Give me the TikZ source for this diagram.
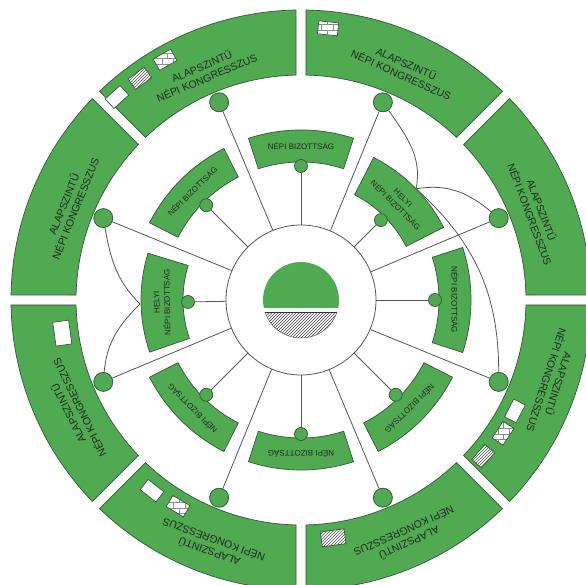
\documentclass[tikz,border=0pt]{standalone}
\usepackage{fontspec}
\setmainfont{Liberation Sans}
\usetikzlibrary{patterns}
\definecolor{segfill}{RGB}{80,170,82}
\definecolor{segedge}{RGB}{55,85,58}
\definecolor{wire}{RGB}{85,85,85}
\definecolor{ink}{RGB}{30,40,30}
\begin{document}
\begin{tikzpicture}[x=1pt,y=1pt,
  seg/.style={fill=segfill,draw=segedge,line width=0.7pt},
  wireline/.style={draw=wire,line width=0.8pt},
  bigdot/.style={circle,fill=segfill,draw=segedge,line width=0.8pt,minimum size=19pt,inner sep=0pt},
  smalldot/.style={circle,fill=segfill,draw=segedge,line width=0.7pt,minimum size=13pt,inner sep=0pt},
  outertext/.style={text=ink,font=\fontsize{10.5}{12.5}\selectfont,align=center,inner sep=0pt},
  innertext/.style={text=ink,font=\fontsize{8}{10.5}\selectfont,align=center,inner sep=0pt},
  whitebox/.style={draw=segedge,fill=white,minimum width=20pt,minimum height=13pt,inner sep=0pt,line width=0.7pt},
  hatchbox/.style={draw=segedge,minimum width=20pt,minimum height=13pt,inner sep=0pt,line width=0.7pt,preaction={fill=white},pattern=north east lines,pattern color=black!70},
  brickbox/.style={draw=segedge,minimum width=20pt,minimum height=13pt,inner sep=0pt,line width=0.7pt,preaction={fill=white},pattern=bricks,pattern color=black!45},
]
\fill[white] (-301,-285) rectangle (285,300);
\useasboundingbox (-301,-285) rectangle (285,300);

% outer ring segments
\foreach \k in {0,...,7}{
  \pgfmathsetmacro\a{45*\k}
  \pgfmathsetmacro\b{45*\k+45}
  \path[seg] ({\a+1.273}:225) -- ({\a+0.988}:290)
    arc[start angle={\a+0.988}, end angle={\b-0.988}, radius=290]
    -- ({\b-1.273}:225)
    arc[start angle={\b-1.273}, end angle={\a+1.273}, radius=225] -- cycle;
}

% inner segments
\foreach \a/\ri/\ro in {0/138/170,45/118/160,90/138/170,135/138/170,181/118/160,225/138/170,270/138/170,315/138/170}{
  \path[seg] ({\a-18}:\ri) arc[start angle={\a-18}, end angle={\a+18}, radius=\ri]
    -- ({\a+18}:\ro) arc[start angle={\a+18}, end angle={\a-18}, radius=\ro] -- cycle;
}

% central ring
\node[circle,draw=wire,line width=0.8pt,fill=white,minimum size=150pt,inner sep=0pt] (ring) at (0,0) {};
\fill[segfill] (-12.15:38) arc[start angle=-12.15,end angle=192.15,radius=38] -- cycle;
\path[pattern=north east lines,pattern color=black!75] (198.4:38) arc[start angle=198.4,end angle=341.6,radius=38] -- cycle;
\draw[wire,line width=0.5pt] (198.4:38) arc[start angle=198.4,end angle=341.6,radius=38];
\draw[black!80,line width=0.8pt] (198.4:38) -- (341.6:38);

% outer circles
\foreach \k in {0,...,7}{
  \pgfmathsetmacro\ang{22.5+45*\k}
  \node[bigdot] (c\k) at (\ang:214) {};
}
% inner dots
\foreach \k/\a/\r in {0/0/134,1/45/113,2/90/134,3/135/134,4/181/113,5/225/134,6/270/134,7/315/134}{
  \node[smalldot] (d\k) at (\a:\r) {};
}

% radial connectors
\foreach \k in {0,...,7}{
  \pgfmathsetmacro\ang{22.5+45*\k}
  \draw[wireline] (ring.\ang) -- (c\k);
}
\foreach \k/\a in {0/0,1/45,2/90,3/135,4/181,5/225,6/270,7/315}{
  \draw[wireline] (ring.\a) -- (d\k);
}

% junctions and curves
\coordinate (j1) at (44:160);
\coordinate (j2) at (-161,-4);
\draw[wireline] (c1) to[out=-55,in=79] (j1);
\draw[wireline] (j1) to[out=10,in=140] (c0);
\draw[wireline] (j1) to[out=-42,in=90] (c7);
\draw[wireline] (c3) to[out=-80,in=135] (j2);
\draw[wireline] (j2) to[out=-135,in=85] (c4);

% outer texts
\foreach \k/\a/\r in {0/20.5/251,1/66/253,2/113/248,3/158/250,4/206/253,5/250/262,6/-66/260,7/-18/265}{
  \node[outertext,rotate=\a-90] (t\k) at (\a:\r) {ALAPSZINTŰ\\NÉPI KONGRESSZUS};
}

% inner texts
\foreach \k/\a/\r in {0/0/154,2/90/154,3/135/154,5/225/154,6/270/154,7/315/154}{
  \node[innertext,rotate=\a-90] (i\k) at (\a:\r) {NÉPI BIZOTTSÁG};
}
\node[innertext,rotate=-45] (i1) at (45:139) {HELYI\\NÉPI BIZOTTSÁG};
\node[innertext,rotate=91] (i4) at (181:139) {HELYI\\NÉPI BIZOTTSÁG};

% small boxes
\node[whitebox,rotate=42.2] (b1) at (132.2:274) {};
\node[hatchbox,rotate=36] (b2) at (126:274) {};
\node[brickbox,rotate=29.5] (b3) at (119.5:276) {};
\node[brickbox,rotate=-5.7] (b4) at (84.3:273) {};
\node[whitebox,rotate=-117.4] (b5) at (-27.4:241) {};
\node[brickbox,rotate=-123.4] (b6) at (-33.4:242) {};
\node[hatchbox,rotate=-130.6] (b7) at (-40.6:240) {};
\node[hatchbox,rotate=-172.3,minimum width=24pt,minimum height=15pt] (b8) at (-82.3:240) {};
\node[whitebox,rotate=142] (b9) at (232:242) {};
\node[brickbox,rotate=149.2] (b10) at (239.2:240) {};
\node[whitebox,rotate=97.9,minimum width=24pt,minimum height=16pt] (b11) at (187.9:241) {};
\end{tikzpicture}
\end{document}
